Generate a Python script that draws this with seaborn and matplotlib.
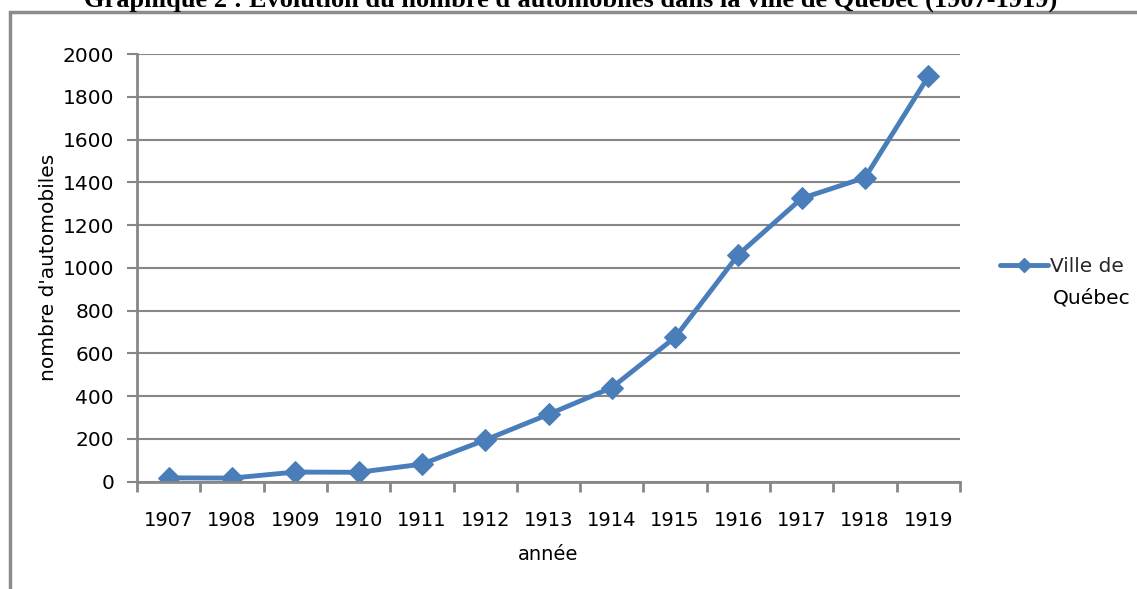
import matplotlib
matplotlib.use("Agg")
import matplotlib.pyplot as plt
import seaborn as sns
import pandas as pd
from matplotlib.patches import Rectangle
from matplotlib.lines import Line2D

years = ["1907", "1908", "1909", "1910", "1911", "1912", "1913",
         "1914", "1915", "1916", "1917", "1918", "1919"]
cars = [18, 17, 45, 44, 82, 195, 315, 440, 675, 1062, 1325, 1422, 1895]
series_name = "Ville de Québec"

df = pd.DataFrame({"annee": years, "automobiles": cars})

sns.set_theme(style="white")
plt.rcParams["font.family"] = ["DejaVu Sans"]

W, H = 1137, 589
fig = plt.figure(figsize=(W / 100, H / 100), dpi=100)
ax = fig.add_axes([137 / W, 1 - 481.7 / H, (960 - 137) / W, (481.7 - 54) / H])

blue = "#4A7EBB"
grid = "#878787"

sns.lineplot(data=df, x="annee", y="automobiles", ax=ax, color=blue,
             linewidth=3.5, marker="D", markersize=11, markeredgecolor=blue,
             sort=False, legend=False)

ax.set_xlim(-0.5, len(years) - 0.5)
ax.set_ylim(0, 2000)
ax.set_yticks(range(0, 2001, 200))
ax.set_xticks(range(len(years)))
ax.set_xticklabels(years)
ax.set_xticks([i - 0.5 for i in range(len(years) + 1)], minor=True)

ax.yaxis.grid(True, color=grid, linewidth=1.5)
ax.set_axisbelow(True)
for s in ["top", "right"]:
    ax.spines[s].set_visible(False)
for s in ["left", "bottom"]:
    ax.spines[s].set_color(grid)
    ax.spines[s].set_linewidth(2)

ax.tick_params(axis="x", which="major", length=0, pad=21, labelsize=14,
               labelcolor="black")
ax.tick_params(axis="x", which="minor", bottom=True, length=7.5, width=2,
               color=grid)
ax.tick_params(axis="y", which="major", left=True, length=7.5, width=1.5,
               color=grid, pad=9, labelsize=14.5, labelcolor="black")

ax.set_xlabel("année", fontsize=14, labelpad=11, color="black")
ax.set_ylabel("nombre d'automobiles", fontsize=14.5, labelpad=3, color="black")

# legend
line = Line2D([], [], color=blue, linewidth=3.5, marker="D", markersize=7)
leg = fig.legend([line], ["Ville de"], loc="center left",
                 bbox_to_anchor=(1000 / W, 1 - 267 / H), frameon=False,
                 fontsize=14.5, handlelength=2.4, handletextpad=0.1,
                 borderpad=0, borderaxespad=0)
fig.text(1053 / W, 1 - 298 / H, "Québec", fontsize=14.5, ha="left",
         va="center", color="black")

# chart border
fig.patches.append(Rectangle((9.5 / W, -0.1), 1.2, 1 - 12 / H + 0.1,
                             transform=fig.transFigure, fill=False,
                             edgecolor="#8C8C8C", linewidth=2.5))

# title (partially cut off at top, as in the reference)
fig.text(571 / W, 1 - 7 / H,
         "Graphique 2 : Évolution du nombre d'automobiles dans la ville de Québec (1907-1919)",
         fontsize=19, fontweight="bold", family="Liberation Serif",
         ha="center", va="baseline", color="black")

fig.savefig("out.png", dpi=100)
